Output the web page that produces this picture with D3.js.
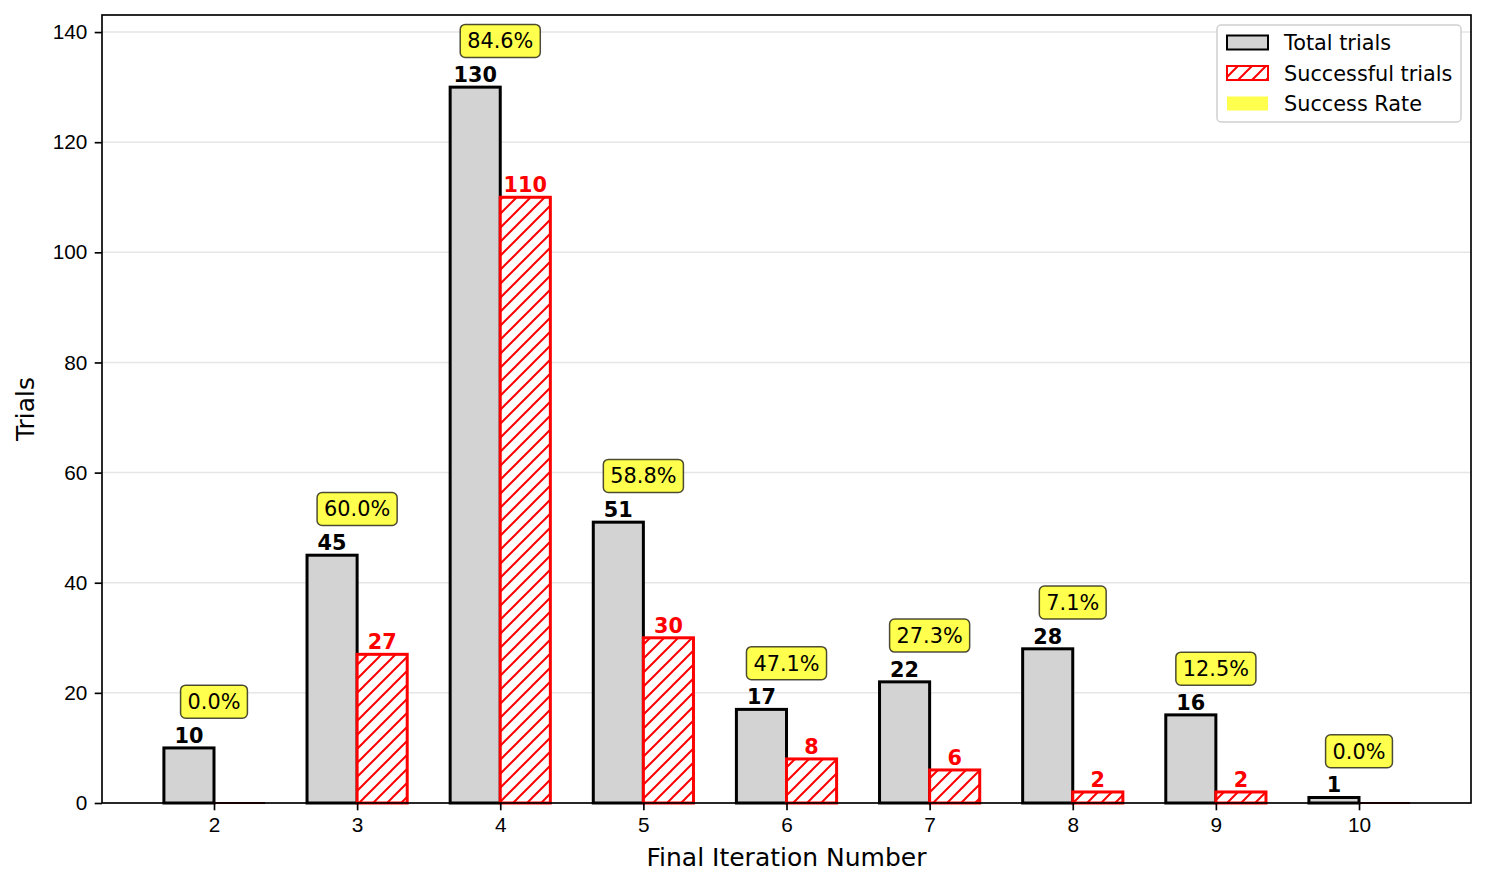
<!DOCTYPE html>
<html>
<head>
<meta charset="UTF-8">
<script src="https://d3js.org/d3.v7.min.js"></script>
<style>
  body { margin: 0; background: #fff; }
  svg { font-family: "DejaVu Sans", sans-serif; }
  .axis text { font-size: 20.8px; fill: #000; }
  .axis path, .axis line { stroke: #000; stroke-width: 1.67px; }
</style>
</head>
<body>
<div id="chart"></div>
<script>
// data
const iterations = ['2', '3', '4', '5', '6', '7', '8', '9', '10'];
const totalTrials = [10, 45, 130, 51, 17, 22, 28, 16, 1];
const successfulTrials = [0, 27, 110, 30, 8, 6, 2, 2, 0];
const rateLabels = ['0.0%', '60.0%', '84.6%', '58.8%', '47.1%', '27.3%', '7.1%', '12.5%', '0.0%'];
const yTicks = [0, 20, 40, 60, 80, 100, 120, 140];

const width = 1486, height = 885;
const margin = { top: 15, right: 15, bottom: 82, left: 102 };
const barW = 0.35;

const svg = d3.select('#chart').append('svg')
  .attr('width', width)
  .attr('height', height);

const defs = svg.append('defs');
const hatch = defs.append('pattern')
  .attr('id', 'hatch')
  .attr('patternUnits', 'userSpaceOnUse')
  .attr('width', 14)
  .attr('height', 14);
hatch.append('rect').attr('width', 14).attr('height', 14).attr('fill', '#fff');
hatch.append('path')
  .attr('d', 'M-1,15 L15,-1 M-8,8 L8,-8 M6,22 L22,6')
  .attr('stroke', 'red')
  .attr('stroke-width', 2);

const x = d3.scaleLinear()
  .domain([-0.7825, iterations.length - 1 + 0.7825])
  .range([margin.left, width - margin.right]);

const y = d3.scaleLinear()
  .domain([0, 143.1])
  .range([height - margin.bottom, margin.top]);

// grid
svg.append('g')
  .selectAll('line')
  .data(yTicks)
  .enter()
  .append('line')
  .attr('x1', margin.left)
  .attr('x2', width - margin.right)
  .attr('y1', d => y(d))
  .attr('y2', d => y(d))
  .attr('stroke', '#e6e6e6')
  .attr('stroke-width', 1.5);

// total bars
svg.append('g')
  .selectAll('rect')
  .data(totalTrials)
  .enter()
  .append('rect')
  .attr('x', (d, i) => x(i - barW))
  .attr('y', d => y(d))
  .attr('width', x(barW) - x(0))
  .attr('height', d => y(0) - y(d))
  .attr('fill', '#d3d3d3')
  .attr('stroke', '#000')
  .attr('stroke-width', 3);

// successful bars (zero ones still leave a thin edge on the baseline)
svg.append('g')
  .selectAll('rect')
  .data(successfulTrials)
  .enter()
  .append('rect')
  .attr('x', (d, i) => x(i))
  .attr('y', d => y(d))
  .attr('width', x(barW) - x(0))
  .attr('height', d => Math.max(y(0) - y(d), 0.01))
  .attr('fill', 'url(#hatch)')
  .attr('stroke', d => d > 0 ? 'red' : '#7a0000')
  .attr('stroke-width', d => d > 0 ? 3 : 2);

// value labels
svg.append('g')
  .selectAll('text')
  .data(totalTrials)
  .enter()
  .append('text')
  .attr('x', (d, i) => x(i - barW / 2))
  .attr('y', d => y(d) - 5)
  .attr('text-anchor', 'middle')
  .attr('font-size', '20.8px')
  .attr('font-weight', 'bold')
  .attr('fill', '#000')
  .text(d => d);

svg.append('g')
  .selectAll('text')
  .data(successfulTrials.map((v, i) => ({ v, i })).filter(d => d.v > 0))
  .enter()
  .append('text')
  .attr('x', d => x(d.i + barW / 2))
  .attr('y', d => y(d.v) - 5)
  .attr('text-anchor', 'middle')
  .attr('font-size', '20.8px')
  .attr('font-weight', 'bold')
  .attr('fill', 'red')
  .text(d => d.v);

// axes
const xAxis = svg.append('g')
  .attr('class', 'axis')
  .attr('transform', `translate(0,${y(0)})`)
  .call(d3.axisBottom(x)
    .tickValues(d3.range(iterations.length))
    .tickFormat(i => iterations[i])
    .tickSize(7.3)
    .tickPadding(7.3));

const yAxis = svg.append('g')
  .attr('class', 'axis')
  .attr('transform', `translate(${margin.left},0)`)
  .call(d3.axisLeft(y)
    .tickValues(yTicks)
    .tickSize(7.3)
    .tickPadding(7.3));

xAxis.select('.domain').remove();
yAxis.select('.domain').remove();

svg.append('rect')
  .attr('x', margin.left)
  .attr('y', margin.top)
  .attr('width', width - margin.left - margin.right)
  .attr('height', height - margin.top - margin.bottom)
  .attr('fill', 'none')
  .attr('stroke', '#000')
  .attr('stroke-width', 1.67);

// rate boxes
const rates = svg.append('g')
  .selectAll('g')
  .data(rateLabels)
  .enter()
  .append('g')
  .attr('transform', (d, i) => `translate(${x(i)},${y(totalTrials[i] + 8.4)})`);

rates.append('text')
  .attr('text-anchor', 'middle')
  .attr('dy', '0.36em')
  .attr('font-size', '20.8px')
  .attr('fill', '#000')
  .text(d => d)
  .each(function () {
    const bb = this.getBBox();
    d3.select(this.parentNode).insert('rect', 'text')
      .attr('x', bb.x - 7)
      .attr('y', -16.5)
      .attr('width', bb.width + 14)
      .attr('height', 33)
      .attr('rx', 5)
      .attr('fill', 'rgb(255,255,77)')
      .attr('stroke', 'rgba(0,0,0,0.7)')
      .attr('stroke-width', 1.5);
  });

// axis titles
svg.append('text')
  .attr('x', (margin.left + width - margin.right) / 2)
  .attr('y', 866)
  .attr('text-anchor', 'middle')
  .attr('font-size', '25px')
  .text('Final Iteration Number');

svg.append('text')
  .attr('transform', `translate(34,${(margin.top + height - margin.bottom) / 2}) rotate(-90)`)
  .attr('text-anchor', 'middle')
  .attr('font-size', '25px')
  .text('Trials');

// legend
const legendItems = [
  { label: 'Total trials', fill: '#d3d3d3', stroke: '#000' },
  { label: 'Successful trials', fill: 'url(#hatch)', stroke: 'red' },
  { label: 'Success Rate', fill: 'rgb(255,255,77)', stroke: 'none' }
];

const legend = svg.append('g').attr('transform', 'translate(1217,25)');
legend.append('rect')
  .attr('width', 244)
  .attr('height', 97)
  .attr('rx', 4)
  .attr('fill', '#fff')
  .attr('stroke', '#d0d0d0')
  .attr('stroke-width', 1.5);

const li = legend.selectAll('g.item')
  .data(legendItems)
  .enter()
  .append('g')
  .attr('class', 'item')
  .attr('transform', (d, i) => `translate(0,${17.5 + i * 30.5})`);

li.append('rect')
  .attr('x', 10)
  .attr('y', -7)
  .attr('width', 41)
  .attr('height', 14)
  .attr('fill', d => d.fill)
  .attr('stroke', d => d.stroke)
  .attr('stroke-width', 2);

li.append('text')
  .attr('x', 67)
  .attr('dy', '0.36em')
  .attr('font-size', '20.8px')
  .text(d => d.label);
</script>
</body>
</html>
